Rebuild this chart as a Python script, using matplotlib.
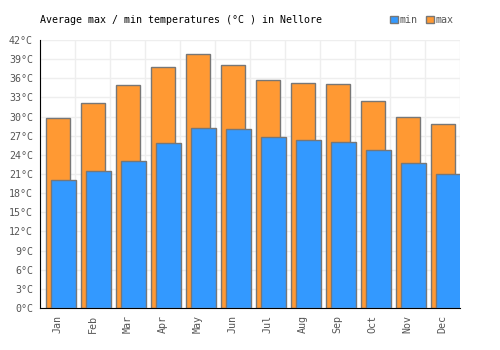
import matplotlib
matplotlib.use('Agg')
import matplotlib.pyplot as plt
import numpy as np
from matplotlib.patches import Patch

months = ['Jan', 'Feb', 'Mar', 'Apr', 'May', 'Jun', 'Jul', 'Aug', 'Sep', 'Oct', 'Nov', 'Dec']
t_max = [29.7, 32.2, 35.0, 37.8, 39.8, 38.1, 35.8, 35.2, 35.1, 32.5, 29.9, 28.9]
t_min = [20.0, 21.5, 23.1, 25.8, 28.2, 28.0, 26.8, 26.4, 26.0, 24.7, 22.7, 21.0]
yticks = np.arange(0, 43, 3)

plt.rcParams['font.family'] = 'DejaVu Sans Mono'
fs = 7.2

fig = plt.figure(figsize=(5, 3.5), dpi=100)
ax = fig.add_axes([0.08, 0.12, 0.84, 0.7657])

x = np.arange(len(months))
ax.bar(x - 0.5 + 6/35, t_max, width=24/35, align='edge', color='#ff9933',
       edgecolor='#777777', linewidth=1, zorder=2)
ax.bar(x - 0.5 + 11/35, t_min, width=25/35, align='edge', color='#3399ff',
       edgecolor='#777777', linewidth=1, zorder=3)

ax.set_xlim(-0.5, 11.5)
ax.set_ylim(0, 42)
ax.set_yticks(yticks)
ax.set_yticklabels(['%d°C' % t for t in yticks], fontsize=fs, color='#555555')
ax.set_xticks(x)
ax.set_xticklabels(months, rotation=90, fontsize=fs, color='#555555')
ax.set_xticks(np.arange(-0.5, 12, 1), minor=True)
ax.grid(True, which='minor', axis='x', color='#eeeeee', linewidth=1, zorder=0)
ax.grid(True, which='major', axis='y', color='#eeeeee', linewidth=1, zorder=0)
ax.tick_params(axis='both', which='both', length=0, pad=5)
for s in ['top', 'right']:
    ax.spines[s].set_visible(False)
ax.spines['left'].set_color('black')
ax.spines['bottom'].set_color('black')
ax.set_axisbelow(True)

fig.text(0.08, 0.943, 'Average max / min temperatures (°C ) in Nellore', fontsize=fs,
         color='black', va='center')
handles = [Patch(facecolor='#3399ff', edgecolor='#777777', label='min'),
           Patch(facecolor='#ff9933', edgecolor='#777777', label='max')]
fig.legend(handles=handles, loc='center right', bbox_to_anchor=(0.925, 0.943), ncol=2,
           frameon=False, fontsize=fs, handlelength=0.8, handleheight=0.8,
           handletextpad=0.2, columnspacing=0.8, labelcolor='#555555')

fig.savefig('out.png', dpi=100)
